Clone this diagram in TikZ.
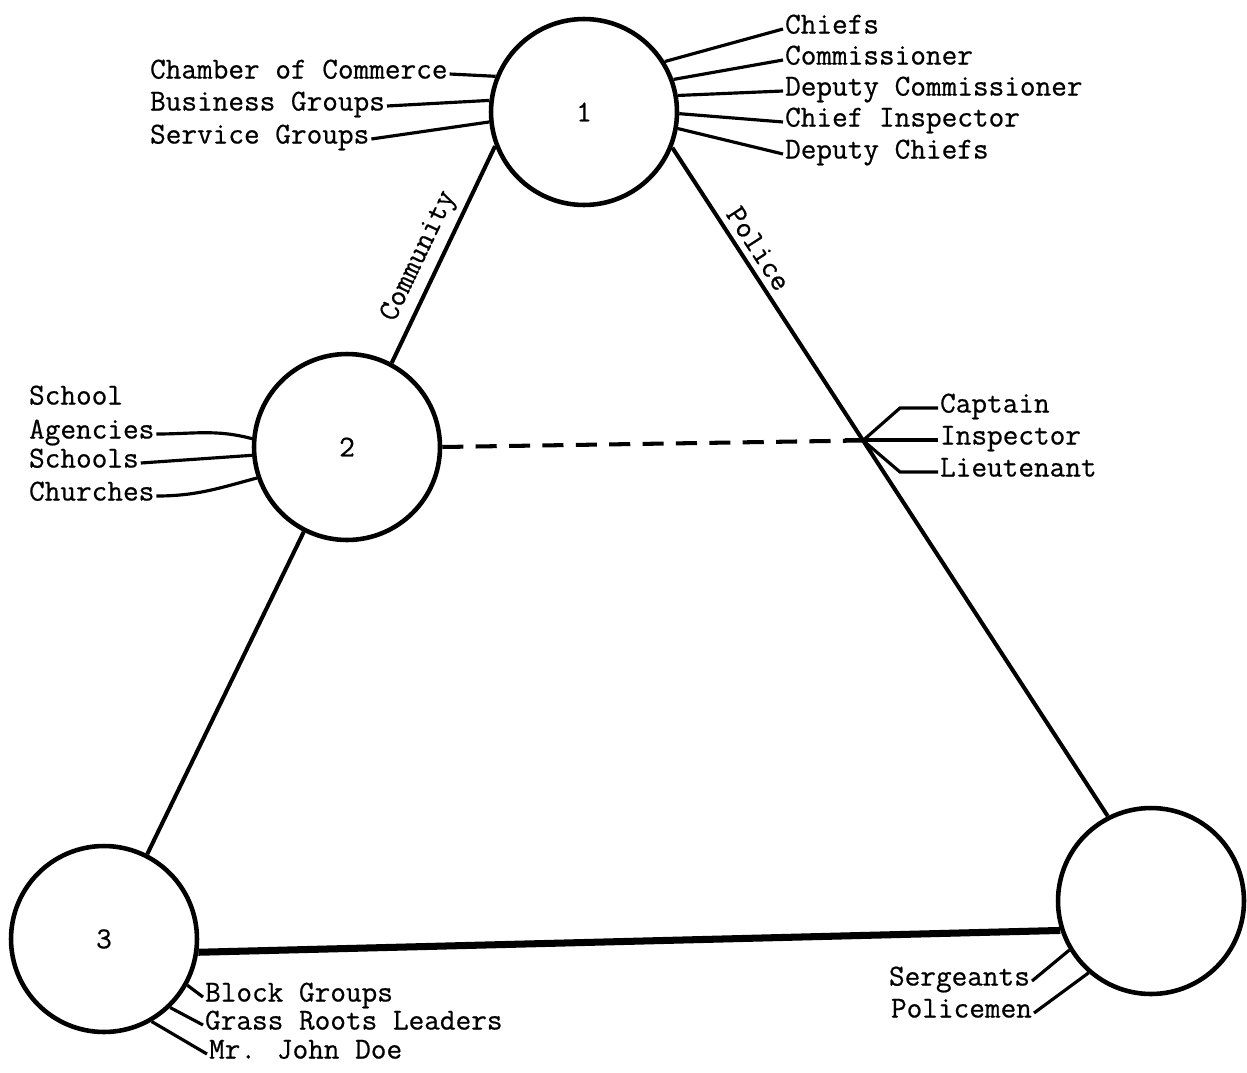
\documentclass[tikz,border=0pt]{standalone}
\usepackage{fontspec}
\usepackage{tikz}
\usetikzlibrary{calc}
\newfontfamily\tyfont[FakeBold=0.6]{Latin Modern Mono}

\begin{document}
\begin{tikzpicture}[x=0.02cm, y=-0.02cm, font={\tyfont\fontsize{17.3}{20}\selectfont}]
				\useasboundingbox (0,0) rectangle (1247,1072);
				\begin{scope}[every node/.style = {circle, draw, line width=2.6pt,
						minimum size=3.72cm, inner sep=0pt}]
					\node (c1) at (584,112) {1};
					\node (c2) at (347,447) {2};
					\node (c3) at (104,939) {3};
					\node (c4) at (1151,901) {};
				\end{scope}
				\coordinate (X) at ($(c1.-22)!0.438!(c4.117)$);
				\begin{scope}[every node/.style = {inner sep=1pt, text height=1.6ex, text depth=0.4ex}]
					\node[anchor=west] (cc) at (148,74) {Chamber of Commerce};
					\node[anchor=west] (bg) at (148,106) {Business Groups};
					\node[anchor=west] (sg) at (148,139) {Service Groups};
					\node[anchor=west] (chiefs) at (783,29) {Chiefs};
					\node[anchor=west] (comm) at (783,60) {Commissioner};
					\node[anchor=west] (dcomm) at (783,91) {Deputy Commissioner};
					\node[anchor=west] (cinsp) at (783,122) {Chief Inspector};
					\node[anchor=west] (dchiefs) at (783,154) {Deputy Chiefs};
					\node[anchor=west] (school) at (27,400) {School};
					\node[anchor=west] (agen) at (27,434) {Agencies};
					\node[anchor=west] (schools) at (27,463) {Schools};
					\node[anchor=west] (church) at (27,496) {Churches};
					\node[anchor=west] (capt) at (938,408) {Captain};
					\node[anchor=west] (insp) at (938,440) {Inspector};
					\node[anchor=west] (lieut) at (938,472) {Lieutenant};
					\node[anchor=west] (block) at (203,997) {Block Groups};
					\node[anchor=west] (grass) at (203,1025) {Grass Roots Leaders};
					\node[anchor=west] (doe) at (207,1054) {Mr. John Doe};
					\node[anchor=east] (serg) at (1032,981) {Sergeants};
					\node[anchor=east] (police) at (1034,1013) {Policemen};
				\end{scope}
				\begin{scope}[every edge/.style={draw=black, line width=2.3pt}]
					\path [-] (c2.62) edge node[pos=0.45, sloped, above] {Community} (c1.201);
					\path [-] (c1.-22) edge node[pos=0.165, sloped, above] {Police} (c4.117);
					\path [-] (c2.243) edge (c3.63);
					\path [-] (c3.-8) edge[line width=4pt] (c4.198);
					\path [-] (c2.0) edge[dash pattern=on 12pt off 7pt] (X);
				\end{scope}
				\begin{scope}[every edge/.style={draw=black, line width=1.8pt}]
					\path [-] (cc.east) edge (c1.158);
					\path [-] (bg.east) edge (c1.173);
					\path [-] (sg.east) edge (c1.186);
					\path [-] (c1.32) edge (chiefs.west);
					\path [-] (c1.20) edge (comm.west);
					\path [-] (c1.10) edge (dcomm.west);
					\path [-] (c1.-1) edge (cinsp.west);
					\path [-] (c1.-10) edge (dchiefs.west);
					\path [-] (agen.east) edge[out=0, in=165] (c2.175);
					\path [-] (schools.east) edge (c2.185);
					\path [-] (church.east) edge[out=0, in=195] (c2.199);
					\path [-] (c3.-29) edge (block.west);
					\path [-] (c3.-46) edge (grass.west);
					\path [-] (c3.-60) edge (doe.west);
					\path [-] (serg.east) edge (c4.211);
					\path [-] (police.east) edge (c4.229);
				\end{scope}
				\draw[line width=1.8pt] (capt.west) -- ++(-38,0) -- (X);
				\draw[line width=1.8pt] (insp.west) -- ++(-93,0);
				\draw[line width=1.8pt] (lieut.west) -- ++(-38,0) -- (X);
			\end{tikzpicture}
\end{document}
